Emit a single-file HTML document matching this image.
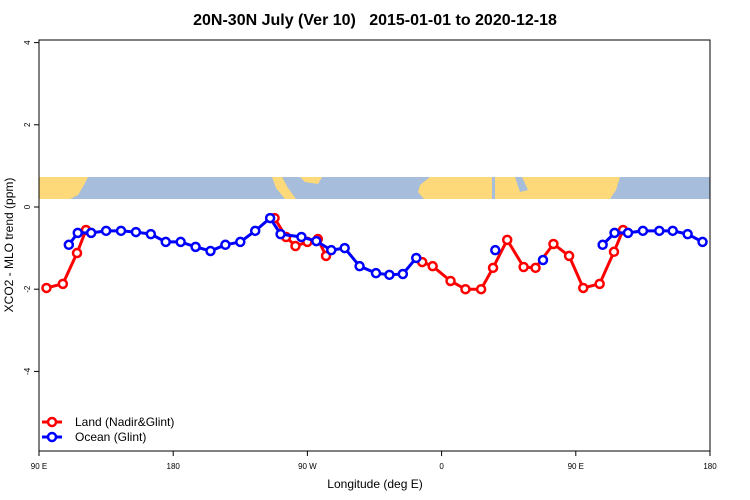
<!DOCTYPE html>
<html><head><meta charset="utf-8"><style>
body{margin:0;background:#fff}
svg{display:block;font-family:"Liberation Sans",sans-serif}
</style></head><body>
<svg id="c" width="750" height="500" xmlns="http://www.w3.org/2000/svg">
<text x="375" y="25" text-anchor="middle" font-size="16" font-weight="bold" style="white-space:pre">20N-30N July (Ver 10)   2015-01-01 to 2020-12-18</text>
<text transform="translate(13,245) rotate(-90)" text-anchor="middle" font-size="12">XCO2 - MLO trend (ppm)</text>
<text x="375" y="488" text-anchor="middle" font-size="12">Longitude (deg E)</text>
<g id="map">
<rect x="39" y="177" width="671" height="22" fill="#a6bddb"/>
<polygon points="39,177 88,177 84,185 78,195 70,199 39,199" fill="#fed97a"/>
<polygon points="272,177 282,177 288,188 296,199 285,199 276,188" fill="#fed97a"/>
<polygon points="300,177 322,177 318,184 305,182" fill="#fed97a"/>
<polygon points="420,185 430,177 620,177 616,190 610,199 424,199 418,192" fill="#fed97a"/>
<rect x="492" y="177" width="3" height="22" fill="#a6bddb"/>
<polygon points="515,177 522,177 528,190 520,192" fill="#a6bddb"/>
</g>
<rect x="39" y="40" width="671" height="411" fill="none" stroke="#000" stroke-width="1"/>
<g id="axes"></g>
<g id="series"></g>
<g>
<g><line x1="42" y1="422" x2="62" y2="422" stroke="#f00" stroke-width="3"/><circle cx="52" cy="422" r="4" fill="#fff" stroke="#f00" stroke-width="2.5"/><text x="75" y="426" font-size="12">Land (Nadir&amp;Glint)</text></g>
<g><line x1="42" y1="437" x2="62" y2="437" stroke="#00f" stroke-width="3"/><circle cx="52" cy="437" r="4" fill="#fff" stroke="#00f" stroke-width="2.5"/><text x="75" y="441" font-size="12">Ocean (Glint)</text></g>
</g>
</svg>
<script>
const xTicks=[90,180,270,360,450,540];
const xTickLabels=["90 E","180","90 W","0","90 E","180"];
const yTicks=[4,2,0,-2,-4];
const landLon=[95,106,115.5,121.5,null,248,255.7,262,270,277,282.5,null,347,354,366,376,386.5,394.5,404,415,423,435,445.5,455,466,475.6,481.7];
const landVal=[-1.97,-1.87,-1.12,-0.56,null,-0.27,-0.73,-0.95,-0.85,-0.78,-1.19,null,-1.34,-1.44,-1.80,-2.0,-2.0,-1.48,-0.80,-1.46,-1.48,-0.90,-1.19,-1.97,-1.87,-1.09,-0.56];
const oceanLon=[110,116,125,135,145,155,165,175,185,195,205,215,225,235,245,252,266,276,286,295,305,316,325,334,343,null,396,null,428,null,468,476,485,495,506,515,525,535];
const oceanVal=[-0.92,-0.63,-0.63,-0.58,-0.58,-0.61,-0.66,-0.85,-0.85,-0.97,-1.07,-0.92,-0.85,-0.58,-0.27,-0.66,-0.73,-0.83,-1.05,-1.0,-1.44,-1.61,-1.65,-1.63,-1.24,null,-1.05,null,-1.29,null,-0.92,-0.63,-0.63,-0.58,-0.58,-0.58,-0.66,-0.85];
const NS="http://www.w3.org/2000/svg";
function X(l){return 39+(l-90)*671/450;}
function Y(v){return 207-41.1*v;}
function mk(t,a,p){const e=document.createElementNS(NS,t);for(const k in a)e.setAttribute(k,a[k]);p.appendChild(e);return e;}
const ax=document.getElementById('axes');
xTicks.forEach((t,i)=>{
 const g=mk('g',{},ax);
 
 
 mk('line',{x1:X(t),x2:X(t),y1:451,y2:456,stroke:'#000'},g);
 const tx=mk('text',{x:X(t),y:469,'text-anchor':'middle','font-size':8},g);tx.textContent=xTickLabels[i];
});
yTicks.forEach(t=>{
 const g=mk('g',{},ax);
 
 
 mk('line',{x1:34,x2:39,y1:Y(t),y2:Y(t),stroke:'#000'},g);
 const tx=mk('text',{transform:`translate(30,${Y(t)}) rotate(-90)`,'text-anchor':'middle','font-size':8},g);tx.textContent=t;
});
const se=document.getElementById('series');
function draw(lons,vals,col,name){
 const g=mk('g',{},se);
 
 
 let segs=[],cur=[];
 lons.forEach((l,i)=>{if(l===null){if(cur.length)segs.push(cur);cur=[];}else cur.push([X(l),Y(vals[i])]);});
 if(cur.length)segs.push(cur);
 segs.forEach(s=>{if(s.length>1){const p=mk('polyline',{points:s.map(q=>q.join(',')).join(' '),fill:'none',stroke:col,'stroke-width':3,'stroke-linejoin':'round'},g);
 
 }});
 segs.forEach(s=>s.forEach(q=>{const c=mk('circle',{cx:q[0],cy:q[1],r:4,fill:'#fff',stroke:col,'stroke-width':2.5},g);
 
 }));
}
draw(landLon,landVal,'#f00','land-series');
draw(oceanLon,oceanVal,'#00f','ocean-series');
</script>
</body></html>
